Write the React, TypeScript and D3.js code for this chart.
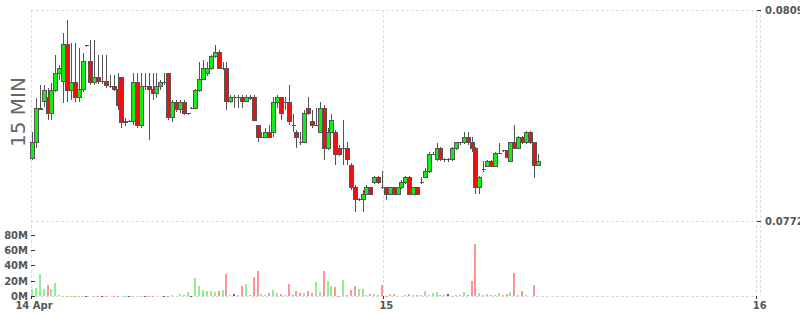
import React from 'react';
import * as d3 from 'd3';

const START = new Date(2024, 3, 14, 1, 15);
const STEP_MIN = 15;

const open = [0.07829,0.07857,0.07916,0.07929,0.07937,0.07908,0.07948,0.07978,0.07964,0.08030,
0.07948,0.07962,0.07937,0.07951,0.08027,0.07999,0.07962,0.07972,0.07964,0.07964,
0.07955,0.07955,0.07951,0.07971,0.07892,0.07895,0.07895,0.07962,0.07887,0.07955,
0.07955,0.07951,0.07943,0.07955,0.07962,0.07978,0.07902,0.07927,0.07916,0.07927,
0.07907,0.07918,0.07918,0.07948,0.07969,0.07978,0.07988,0.08008,0.08016,0.07987,
0.07988,0.07929,0.07937,0.07936,0.07937,0.07929,0.07937,0.07937,0.07888,0.07866,
0.07867,0.07876,0.07876,0.07927,0.07937,0.07926,0.07927,0.07888,0.07876,0.07857,
0.07857,0.07918,0.07895,0.07887,0.07876,0.07918,0.07848,0.07876,0.07876,0.07848,
0.07847,0.07848,0.07818,0.07778,0.07756,0.07757,0.07767,0.07778,0.07787,0.07797,
0.07778,0.07778,0.07767,0.07778,0.07767,0.07778,0.07787,0.07797,0.07767,0.07778,
0.07786,0.07797,0.07806,0.07836,0.07827,0.07848,0.07826,0.07827,0.07827,0.07848,
0.07856,0.07857,0.07867,0.07857,0.07848,0.07778,0.07810,0.07816,0.07825,0.07816,
0.07838,0.07842,0.07843,0.07825,0.07857,0.07848,0.07867,0.07857,0.07876,0.07857,
0.07818];

const close = [0.07858,0.07918,0.07918,0.07948,0.07908,0.07948,0.07978,0.07988,0.08030,0.07948,
0.07962,0.07937,0.07951,0.07999,0.08027,0.07962,0.07972,0.07964,0.07964,0.07957,
0.07955,0.07951,0.07923,0.07892,0.07895,0.07895,0.07962,0.07887,0.07955,0.07955,
0.07951,0.07943,0.07955,0.07962,0.07962,0.07902,0.07927,0.07916,0.07927,0.07908,
0.07908,0.07918,0.07948,0.07969,0.07988,0.07988,0.08008,0.08016,0.07988,0.07988,
0.07929,0.07937,0.07937,0.07937,0.07929,0.07937,0.07934,0.07897,0.07867,0.07867,
0.07876,0.07867,0.07927,0.07937,0.07908,0.07927,0.07895,0.07887,0.07867,0.07856,
0.07908,0.07908,0.07888,0.07888,0.07918,0.07848,0.07876,0.07897,0.07836,0.07836,
0.07848,0.07827,0.07778,0.07757,0.07757,0.07767,0.07778,0.07767,0.07797,0.07787,
0.07777,0.07767,0.07778,0.07767,0.07778,0.07787,0.07797,0.07767,0.07778,0.07767,
0.07787,0.07806,0.07837,0.07837,0.07848,0.07827,0.07827,0.07827,0.07848,0.07857,
0.07857,0.07867,0.07857,0.07848,0.07778,0.07797,0.07811,0.07825,0.07816,0.07839,
0.07839,0.07843,0.07832,0.07857,0.07848,0.07867,0.07857,0.07876,0.07857,0.07818,
0.07825];

const high = [0.07876,0.07936,0.07958,0.07958,0.07953,0.07962,0.08011,0.07994,0.08050,0.08072,
0.08032,0.08032,0.08023,0.08015,0.08029,0.08037,0.08037,0.08011,0.08011,0.08011,
0.07976,0.07976,0.07980,0.07971,0.07901,0.07897,0.07980,0.07980,0.07980,0.07980,
0.07980,0.07980,0.07980,0.07967,0.07980,0.07980,0.07932,0.07932,0.07932,0.07932,
0.07909,0.07920,0.07951,0.07999,0.08002,0.07999,0.08011,0.08029,0.08020,0.07999,
0.07999,0.07941,0.07941,0.07941,0.07941,0.07941,0.07941,0.07941,0.07888,0.07876,
0.07883,0.07888,0.07937,0.07941,0.07937,0.07937,0.07958,0.07908,0.07880,0.07876,
0.07915,0.07937,0.07915,0.07918,0.07929,0.07923,0.07883,0.07908,0.07880,0.07853,
0.07897,0.07858,0.07822,0.07783,0.07760,0.07774,0.07783,0.07780,0.07799,0.07799,
0.07808,0.07780,0.07780,0.07780,0.07780,0.07792,0.07799,0.07799,0.07780,0.07780,
0.07797,0.07813,0.07841,0.07841,0.07857,0.07850,0.07830,0.07830,0.07850,0.07858,
0.07858,0.07876,0.07876,0.07867,0.07850,0.07799,0.07825,0.07827,0.07827,0.07841,
0.07857,0.07844,0.07844,0.07858,0.07888,0.07869,0.07869,0.07878,0.07878,0.07858,
0.07837];

const low = [0.07827,0.07848,0.07915,0.07920,0.07897,0.07897,0.07946,0.07967,0.07927,0.07929,
0.07932,0.07929,0.07929,0.07946,0.08025,0.07958,0.07958,0.07960,0.07960,0.07953,
0.07953,0.07948,0.07915,0.07883,0.07887,0.07894,0.07888,0.07883,0.07883,0.07950,
0.07862,0.07932,0.07936,0.07950,0.07958,0.07897,0.07894,0.07911,0.07909,0.07906,
0.07906,0.07916,0.07916,0.07946,0.07967,0.07974,0.07985,0.08006,0.07987,0.07985,
0.07915,0.07927,0.07918,0.07918,0.07918,0.07929,0.07932,0.07895,0.07858,0.07865,
0.07865,0.07865,0.07867,0.07918,0.07897,0.07915,0.07888,0.07876,0.07848,0.07853,
0.07857,0.07906,0.07883,0.07887,0.07874,0.07827,0.07844,0.07874,0.07818,0.07834,
0.07818,0.07818,0.07774,0.07736,0.07755,0.07736,0.07766,0.07766,0.07785,0.07785,
0.07776,0.07757,0.07766,0.07766,0.07766,0.07776,0.07785,0.07766,0.07766,0.07766,
0.07785,0.07795,0.07804,0.07835,0.07825,0.07825,0.07823,0.07823,0.07825,0.07844,
0.07853,0.07855,0.07853,0.07841,0.07767,0.07767,0.07806,0.07815,0.07815,0.07815,
0.07837,0.07841,0.07830,0.07823,0.07846,0.07846,0.07855,0.07855,0.07855,0.07795,
0.07816];

// volume in millions
const volume = [10,10.5,30,10,15,10,17,2,
0.4,0.5,0.6,0.5,0.7,0.4,0.6,0.8,0.5,0.6,0.7,0.5,0.9,0.6,0.5,0.8,0.7,0.6,0.5,0.8,0.6,0.7,0.5,0.6,0.8,0.9,0.6,0.7,1.2,0.8,
3,2,6,0.5,24,13.5,8,7,7,5.5,7,8,29.5,2,3,2,13.5,16,2,25,33,3,2,4,
8,4.5,3,2,16,2,7.5,4,4,7.5,
4.5,19,6,34,20,14,12,0.5,21.5,2,
8,13.5,9.5,9.5,2,3,3,2,15,0.5,
3,3.5,1,1,1.5,3,2,2,2,7,
2,4.5,6,2,2,3,0.5,2,2,6,
2,20,69,4.5,2,3,2,2,4.5,2,
3,6,31,2,7.5,2,1,15,1];

const priceTicks = [0.0772, 0.0809];
const volumeTicks = [0, 20, 40, 60, 80];
const dayTicks = [new Date(2024, 3, 14), new Date(2024, 3, 15), new Date(2024, 3, 16)];
const dayTickLabels = ['14 Apr', '15', '16'];
const panelLabel = '15 MIN';

const W = 800;
const H = 315;
const GRID = '#dcdcdc';
const TXT = '#555';
const FONT = '"DejaVu Sans", Verdana, sans-serif';

export default function App() {
  const x = d3.scaleTime()
    .domain([new Date(2024, 3, 14, 1, 21), new Date(2024, 3, 16)])
    .range([31, 756.7])
    .clamp(true);
  const y = d3.scaleLinear().domain([0.0772, 0.0809]).range([221, 10]);
  const yv = d3.scaleLinear().domain([0, 100]).range([296.3, 220.5]);

  const times = open.map((_, i) => new Date(START.getTime() + i * STEP_MIN * 60000));
  const cx = (t: Date) => x(new Date(t.getTime() + 10 * 60000));

  const left = 31, right = 756.7, top = 10, priceBottom = 221, volBottom = 296.3;

  return (
    <div style={{ position: 'absolute', left: 0, top: 0, width: W, height: H, overflow: 'hidden' }}>
      <svg width={W} height={H} style={{ display: 'block', background: '#fff' }} fontFamily={FONT}>
        {/* grid */}
        <g stroke={GRID} strokeWidth={1} strokeDasharray="3,2" shapeRendering="crispEdges" fill="none">
          {[top, priceBottom, volBottom].map((gy, i) => (
            <line key={'h' + i} x1={left} x2={right} y1={gy} y2={gy} />
          ))}
          {dayTicks.map((d, i) => (
            <line key={'v' + i} x1={x(d)} x2={x(d)} y1={top} y2={volBottom} />
          ))}
          <line x1={760} x2={760} y1={top} y2={volBottom} />
        </g>

        {/* volume bars */}
        <g shapeRendering="crispEdges">
          {volume.map((v, i) => {
            const up = close[i] > open[i];
            const dn = close[i] < open[i];
            const col = up ? '#90ee90' : dn ? '#ff9494' : '#666';
            const c = cx(times[i]);
            return (
              <rect key={i} x={c - 1} width={2} y={yv(v)} height={Math.max(0.8, yv(0) - yv(v))} fill={col} />
            );
          })}
        </g>

        {/* candles */}
        <g shapeRendering="crispEdges">
          {open.map((o, i) => {
            const c = Math.round(cx(times[i]));
            const cl = close[i];
            const up = cl > o;
            const dn = cl < o;
            const y0 = y(Math.max(o, cl));
            const y1 = y(Math.min(o, cl));
            const h = y1 - y0;
            return (
              <g key={i}>
                <line x1={c + 0.5} x2={c + 0.5} y1={y(high[i])} y2={y(low[i])} stroke="#555" strokeWidth={1} />
                {h >= 1 ? (
                  <rect x={c - 1.5} y={y0} width={4} height={h} fill={up ? '#11ee11' : dn ? '#ee1111' : '#555'} stroke="#555" strokeWidth={1} />
                ) : (
                  <line x1={c - 1.5} x2={c + 2.5} y1={y0} y2={y0} stroke="#555" strokeWidth={1} />
                )}
              </g>
            );
          })}
        </g>

        {/* right price axis */}
        <g>
          {priceTicks.map((p, i) => (
            <g key={i}>
              <line x1={757} x2={761} y1={y(p)} y2={y(p)} stroke="#333" strokeWidth={1} shapeRendering="crispEdges" />
              <text x={765} y={y(p)} dy="0.35em" fontSize={10} fontWeight="bold" fill={TXT}>
                {d3.format('.4f')(p)}
              </text>
            </g>
          ))}
        </g>

        {/* left volume axis */}
        <g>
          {volumeTicks.map((v, i) => (
            <g key={i}>
              <line x1={31} x2={35} y1={yv(v)} y2={yv(v)} stroke="#333" strokeWidth={1} shapeRendering="crispEdges" />
              <text x={28} y={yv(v)} dy="0.35em" textAnchor="end" fontSize={10} fontWeight="bold" fill={TXT}>
                {v + 'M'}
              </text>
            </g>
          ))}
        </g>

        {/* bottom time axis */}
        <g>
          {dayTicks.map((d, i) => (
            <g key={i}>
              <line x1={x(d)} x2={x(d)} y1={volBottom} y2={volBottom + 3} stroke="#333" strokeWidth={1} shapeRendering="crispEdges" />
              <text x={x(d) + 3} y={309} textAnchor="middle" fontSize={10} fontWeight="bold" fill={TXT}>
                {dayTickLabels[i]}
              </text>
            </g>
          ))}
        </g>

        {/* panel label */}
        <text transform="translate(25,112) rotate(-90)" textAnchor="middle" fontSize={20} fill="#666">
          {panelLabel}
        </text>
      </svg>
    </div>
  );
}
